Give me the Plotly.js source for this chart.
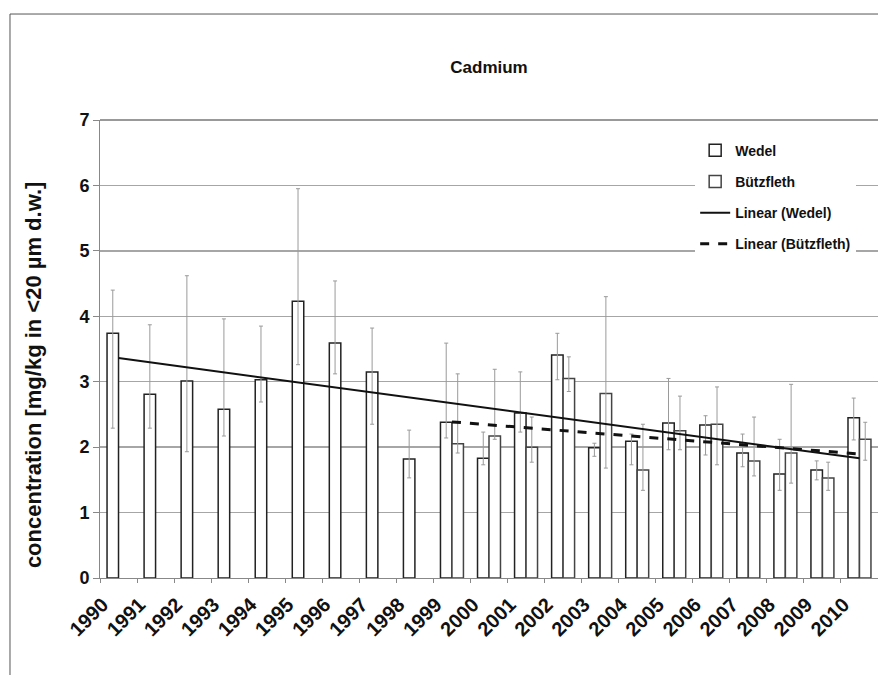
<!DOCTYPE html>
<html>
<head>
<meta charset="utf-8">
<script src="https://cdn.plot.ly/plotly-3.0.1.min.js"></script>
<style>html,body{margin:0;padding:0;background:#fff;}#chart{width:878px;height:675px;}</style>
</head>
<body>
<div id="chart"></div>
<script>
// ---- data ----
const years = ["1990","1991","1992","1993","1994","1995","1996","1997","1998","1999","2000",
               "2001","2002","2003","2004","2005","2006","2007","2008","2009","2010"];
const wedelMean  = [3.74,2.81,3.01,2.58,3.03,4.23,3.59,3.15,1.82,2.38,1.83,2.52,3.41,1.99,2.09,2.37,2.34,1.91,1.59,1.65,2.45];
const wedelHigh  = [4.40,3.87,4.62,3.96,3.85,5.95,4.54,3.82,2.26,3.59,2.23,3.15,3.74,2.06,2.20,3.05,2.48,2.20,2.12,1.79,2.75];
const wedelLow   = [2.29,2.29,1.93,2.17,2.69,3.26,3.12,2.35,1.53,2.14,1.73,2.23,3.03,1.86,1.73,1.96,1.88,1.70,1.34,1.50,2.11];
const buetzMean  = [null,null,null,null,null,null,null,null,null,2.05,2.17,2.00,3.05,2.82,1.65,2.25,2.35,1.79,1.91,1.53,2.12];
const buetzHigh  = [null,null,null,null,null,null,null,null,null,3.12,3.19,2.46,3.38,4.30,2.35,2.78,2.92,2.46,2.96,1.77,2.38];
const buetzLow   = [null,null,null,null,null,null,null,null,null,1.91,2.12,1.77,2.85,1.68,1.34,1.96,1.73,1.56,1.45,1.34,1.80];
const yTitle = "concentration [mg/kg in &lt;20 µm d.w.]";

// ---- helpers ----
function errPlus(m, h){ return m.map((v,i)=> v==null ? null : +(h[i]-v).toFixed(3)); }
function errMinus(m, l){ return m.map((v,i)=> v==null ? null : +(v-l[i]).toFixed(3)); }
function linearTrend(cats, vals){
  const pts = [];
  vals.forEach((v,i)=>{ if(v!=null) pts.push([i,v]); });
  const n = pts.length;
  const mx = pts.reduce((s,p)=>s+p[0],0)/n, my = pts.reduce((s,p)=>s+p[1],0)/n;
  let sxy=0, sxx=0;
  pts.forEach(p=>{ sxy+=(p[0]-mx)*(p[1]-my); sxx+=(p[0]-mx)*(p[0]-mx); });
  const b = sxy/sxx, a = my - b*mx;
  const i0 = pts[0][0], i1 = pts[n-1][0];
  return {x:[cats[i0], cats[i1]], y:[a+b*i0, a+b*i1]};
}
const tW = linearTrend(years, wedelMean);
const tB = linearTrend(years, buetzMean);

const FONT = "Liberation Sans, Arial, sans-serif";

const traces = [
  {type:"bar", name:"Wedel", x:years, y:wedelMean, legendgroup:"a",
   marker:{color:"#ffffff", line:{color:"#222", width:1.5}},
   error_y:{type:"data", symmetric:false, array:errPlus(wedelMean,wedelHigh),
            arrayminus:errMinus(wedelMean,wedelLow), color:"#9a9a9a", thickness:1, width:2}},
  {type:"bar", name:"Bützfleth", x:years, y:buetzMean, legendgroup:"b",
   marker:{color:"#ffffff", line:{color:"#444", width:1.5}},
   error_y:{type:"data", symmetric:false, array:errPlus(buetzMean,buetzHigh),
            arrayminus:errMinus(buetzMean,buetzLow), color:"#9a9a9a", thickness:1, width:2}},
  {type:"scatter", mode:"lines", name:"Linear (Wedel)", x:tW.x, y:tW.y, legendgroup:"c",
   line:{color:"#111", width:2}},
  {type:"scatter", mode:"lines", name:"Linear (Bützfleth)", x:tB.x, y:tB.y, legendgroup:"d",
   line:{color:"#111", width:3, dash:"dash"}}
];

const layout = {
  width:878, height:675,
  margin:{l:100, r:0, t:120, b:97},
  paper_bgcolor:"#fff", plot_bgcolor:"#fff",
  font:{family:FONT, color:"#111"},
  title:{text:"<b>Cadmium</b>", font:{size:17, family:FONT, color:"#111"},
         x:0.5, xref:"paper", y:0.9, yref:"container", yanchor:"middle"},
  barmode:"group", bargap:0.38, bargroupgap:0,
  showlegend:true,
  legend:{x:0.765, y:0.968, xanchor:"left", yanchor:"top", bgcolor:"#fff",
          font:{size:14, family:FONT, color:"#111", weight:"bold"},
          tracegroupgap:10, itemwidth:30, traceorder:"grouped"},
  xaxis:{type:"category", tickangle:-45, tickson:"boundaries", ticks:"outside", ticklen:4,
         tickcolor:"#888", showline:true, linecolor:"#888", linewidth:1, showgrid:false,
         ticklabelstandoff:6, ticklabelshift:-16,
         tickfont:{size:20, family:FONT, color:"#111", weight:"bold"}},
  yaxis:{range:[0,7], dtick:1, ticks:"outside", ticklen:6, tickcolor:"#888",
         showline:true, linecolor:"#888", linewidth:1, showgrid:true, gridcolor:"#a6a6a6", gridwidth:1.3,
         zeroline:false,
         tickfont:{size:18, family:FONT, color:"#111", weight:"bold"}},
  annotations:[
    {text:"<b>"+yTitle+"</b>", textangle:-90, xref:"paper", yref:"paper",
     x:-0.0861, y:0.443, xanchor:"center", yanchor:"middle", showarrow:false,
     font:{size:22, family:FONT, color:"#111"}}
  ],
  shapes:[
    {type:"line", xref:"paper", yref:"paper", x0:0, x1:1, y0:1, y1:1, line:{color:"#777", width:1.5}},
    {type:"line", xref:"paper", yref:"paper", x0:-0.1157, x1:1, y0:1.2314, y1:1.2314, line:{color:"#555", width:1}},
    {type:"line", xref:"paper", yref:"paper", x0:-0.1157, x1:-0.1157, y0:1.2314, y1:-0.25, line:{color:"#555", width:1}}
  ]
};

Plotly.newPlot("chart", traces, layout, {staticPlot:true, displayModeBar:false});
</script>
</body>
</html>
